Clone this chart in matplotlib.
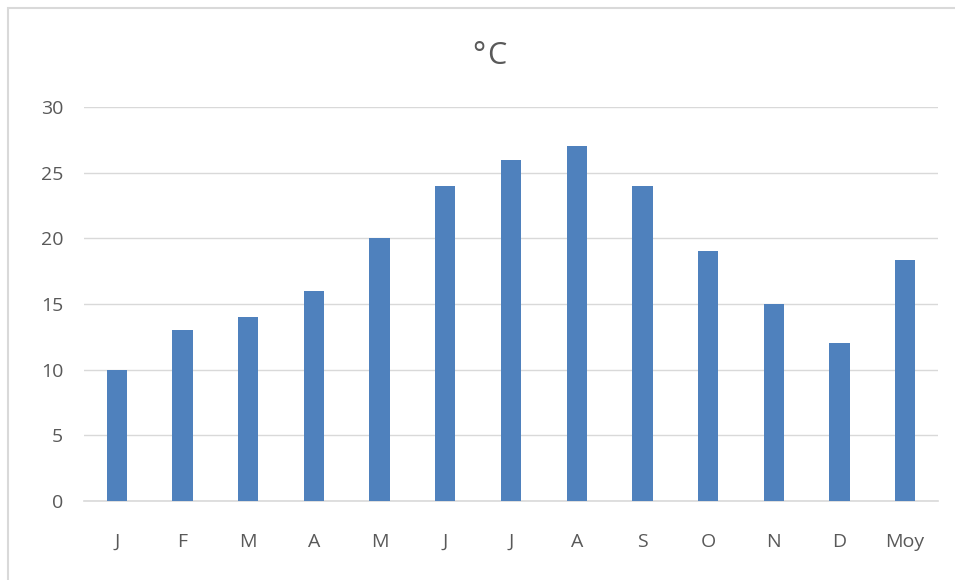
import matplotlib.pyplot as plt
from matplotlib.patches import Rectangle

months = ['J', 'F', 'M', 'A', 'M', 'J', 'J', 'A', 'S', 'O', 'N', 'D', 'Moy']
temps = [10, 13, 14, 16, 20, 24, 26, 27, 24, 19, 15, 12]
temps = temps + [sum(temps) / len(temps)]
yticks = [0, 5, 10, 15, 20, 25, 30]

plt.rcParams['font.family'] = ['Open Sans', 'DejaVu Sans']

fig = plt.figure(figsize=(9.55, 5.8), dpi=100)
ax = fig.add_axes([84 / 955, 79 / 580, 854 / 955, 394 / 580])

x = range(len(months))
ax.bar(x, temps, width=0.31, color='#4F81BD', zorder=3)

ax.set_xlim(-0.5, len(months) - 0.5)
ax.set_ylim(0, 30)
ax.set_yticks(yticks)
ax.set_xticks(list(x))
ax.set_xticklabels(months)
ax.grid(axis='y', color='#D9D9D9', linewidth=1, zorder=0)
ax.tick_params(length=0, labelsize=14, labelcolor='#595959')
ax.tick_params(axis='x', pad=23)
ax.tick_params(axis='y', pad=15)
for side in ['top', 'right', 'left']:
    ax.spines[side].set_visible(False)
ax.spines['bottom'].set_color('#D9D9D9')
ax.spines['bottom'].set_linewidth(1.2)

# degree sign and C drawn apart so the font's kerning doesn't merge them
title_y = 1 - 64 / 580
fig.text(485 / 955, title_y, '°', ha='right', va='baseline',
         fontsize=22, color='#595959')
fig.text(487 / 955, title_y, 'C', ha='left', va='baseline',
         fontsize=22, color='#595959')

# light frame round the chart, running off the right and bottom edges
fig.patches.append(Rectangle((7.5 / 955, -10 / 580), 960 / 955, 582 / 580,
                             transform=fig.transFigure, fill=False,
                             edgecolor='#D9D9D9', linewidth=1.5))

fig.savefig('out.png', dpi=100)
